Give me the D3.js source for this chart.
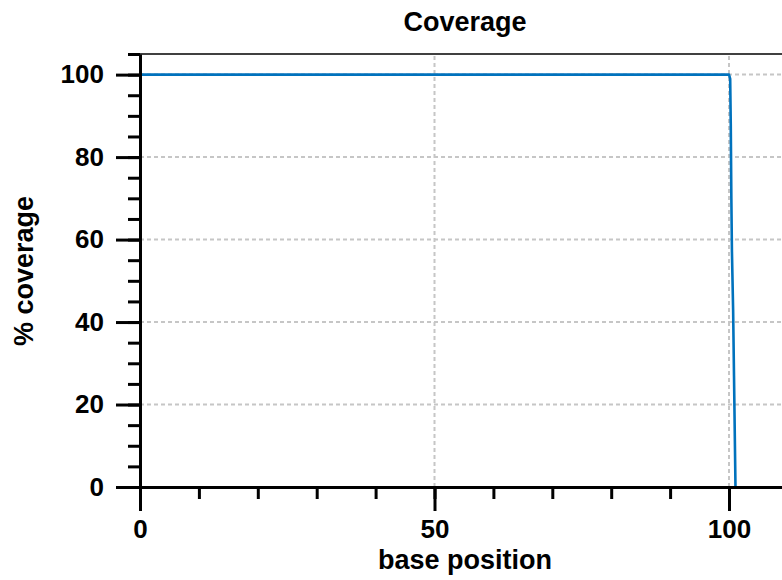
<!DOCTYPE html>
<html lang="en">
<head>
    <meta charset="UTF-8">
    <title>Coverage</title>
    <script src="https://d3js.org/d3.v7.min.js"></script>
    <style>
        body { margin: 0; background: #fff; }
        text { font-family: "Liberation Sans", Arial, sans-serif; font-weight: bold; }
    </style>
</head>
<body>
<div id="chart"></div>

<script>
    // coverage curve: base position vs % coverage
    var positions = [0, 100, 100.2, 100.3, 100.4, 100.5, 100.7, 100.85, 101.1];
    var coverage = [100, 100, 99, 88, 70, 57, 43, 27, 0];

    var xMajorTicks = [0, 50, 100];
    var xMinorTicks = [0, 10, 20, 30, 40, 50, 60, 70, 80, 90, 100, 110];
    var yMajorTicks = [0, 20, 40, 60, 80, 100];
    var yMinorTicks = [0, 5, 10, 15, 20, 25, 30, 35, 40, 45, 50, 55, 60, 65, 70, 75, 80, 85, 90, 95, 100, 105];

    var width = 782, height = 580;
    var svg = d3.select("#chart").append("svg")
        .attr("width", width)
        .attr("height", height);

    var x = d3.scaleLinear().domain([0, 110]).range([140, 787.9]);
    var y = d3.scaleLinear().domain([0, 105]).range([487, 54]);

    // grid
    var grid = svg.append("g")
        .attr("stroke", "#c6c6c6")
        .attr("stroke-width", 2)
        .attr("stroke-dasharray", "4,3");
    grid.selectAll(".gx").data(xMajorTicks.slice(1)).enter().append("line")
        .attr("x1", function (d) { return x(d); })
        .attr("x2", function (d) { return x(d); })
        .attr("y1", y(0))
        .attr("y2", y(105));
    grid.selectAll(".gy").data(yMajorTicks.slice(1)).enter().append("line")
        .attr("y1", function (d) { return y(d); })
        .attr("y2", function (d) { return y(d); })
        .attr("x1", x(0))
        .attr("x2", width);

    // top frame
    svg.append("line")
        .attr("x1", x(0)).attr("x2", width)
        .attr("y1", y(105)).attr("y2", y(105))
        .attr("stroke", "#000")
        .attr("stroke-width", 1.5);

    // data line
    var pts = positions.map(function (p, i) { return [p, coverage[i]]; });
    var line = d3.line()
        .x(function (d) { return x(d[0]); })
        .y(function (d) { return y(d[1]); });
    svg.append("path")
        .datum(pts)
        .attr("fill", "none")
        .attr("stroke", "#0072BD")
        .attr("stroke-width", 2.6)
        .attr("stroke-linejoin", "round")
        .attr("d", line);

    function styleAxis(g) {
        g.selectAll("path, line").attr("stroke", "#000").attr("stroke-width", 3);
        g.selectAll("text").attr("fill", "#000").attr("font-size", "26px");
    }

    // minor ticks
    svg.append("g")
        .attr("transform", "translate(0," + y(0) + ")")
        .call(d3.axisBottom(x).tickValues(xMinorTicks).tickSize(12).tickSizeOuter(0).tickFormat(""))
        .call(styleAxis);
    svg.append("g")
        .attr("transform", "translate(" + x(0) + ",0)")
        .call(d3.axisLeft(y).tickValues(yMinorTicks).tickSize(12).tickSizeOuter(0).tickFormat(""))
        .call(styleAxis);

    // major ticks
    svg.append("g")
        .attr("transform", "translate(0," + y(0) + ")")
        .call(d3.axisBottom(x).tickValues(xMajorTicks).tickSize(24).tickPadding(9).tickSizeOuter(0))
        .call(styleAxis)
        .select(".domain").remove();
    svg.append("g")
        .attr("transform", "translate(" + x(0) + ",0)")
        .call(d3.axisLeft(y).tickValues(yMajorTicks).tickSize(24).tickPadding(12).tickSizeOuter(0))
        .call(styleAxis)
        .select(".domain").remove();

    // labels
    svg.append("text")
        .attr("x", 465).attr("y", 31)
        .attr("text-anchor", "middle")
        .attr("font-size", "27px")
        .text("Coverage");
    svg.append("text")
        .attr("x", 465).attr("y", 569)
        .attr("text-anchor", "middle")
        .attr("font-size", "27px")
        .text("base position");
    svg.append("text")
        .attr("transform", "translate(33,271) rotate(-90)")
        .attr("text-anchor", "middle")
        .attr("font-size", "27px")
        .text("% coverage");
</script>
</body>
</html>
